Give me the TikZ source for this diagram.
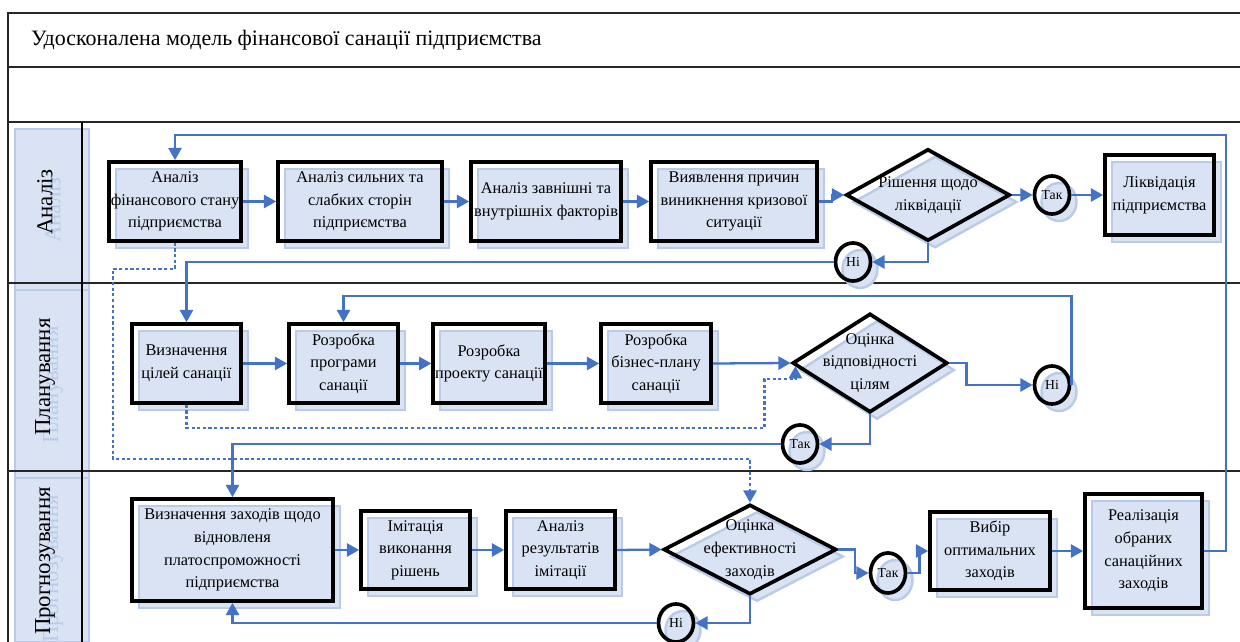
\documentclass[tikz,border=0pt]{standalone}
\usepackage{fontspec}
\setmainfont{Liberation Serif}
\usetikzlibrary{arrows.meta,shapes.geometric,shadows,calc}
\definecolor{lineblue}{HTML}{4472C4}
\definecolor{shade}{HTML}{DAE3F3}
\definecolor{shadeedge}{HTML}{B9CBE8}

\begin{document}
\begin{tikzpicture}[x=0.2mm,y=-0.2mm,
 sh/.style={drop shadow={shadow xshift=1.4mm,shadow yshift=-1.4mm,fill=shade,draw=shadeedge,line width=1.4pt,opacity=1}},
 box/.style={draw=black,line width=2.1pt,align=center,inner sep=1pt,sh,font=\fontsize{9.3}{12.9}\selectfont},
 dec/.style={box,diamond,inner sep=-12pt},
 ans/.style={box,ellipse,minimum width=7mm,minimum height=7.6mm,inner sep=0pt,font=\fontsize{7.8}{9}\selectfont},
 sz/.style 2 args={minimum width=#1*0.2mm,minimum height=#2*0.2mm},
 arr/.style={draw=lineblue,line width=1.3pt,-{Triangle[length=7pt,width=7.5pt]}},
 dotarr/.style={arr,dash pattern=on 1.8pt off 1.4pt},
 lane/.style={draw=black!85,line width=1pt},
 lanetxt/.style={rotate=90,font=\fontsize{13}{15}\selectfont}]
 \useasboundingbox (0,0) rectangle (1240,642);
 % lane header shadows
 \foreach \t/\b in {129/290,290/478,478/642}
   \draw[shadeedge,fill=shade,line width=0.8pt] (15,\t) rectangle (89,\b);
 % frame
 \draw[black!85,line width=1.4pt] (1240,13) -- (8,13) -- (8,642);
 \draw[lane] (8,67) -- (1240,67);
 \draw[lane,line width=1.4pt] (8,122) -- (1240,122);
 \foreach \y in {283,471} \draw[lane] (8,\y) -- (1240,\y);
 \draw[black,line width=0.6pt] (82,122) -- (82,642);
 \node[anchor=west,font=\fontsize{12.5}{15}\selectfont] (title) at (25,40) {Удосконалена модель фінансової санації підприємства};
 \foreach \y/\lab in {202/Аналіз,377/Планування,561/Прогнозування}{
   \node[lanetxt,text=shadeedge] at (53,\y+8) {\lab};
   \node[lanetxt] (lane\y) at (45,\y) {\lab};
 }

 % analysis
 \node[box,sz={130}{79}] (a1) at (175,201.5) {Аналіз\\фінансового стану\\підприємства};
 \node[box,sz={164}{79}] (a2) at (360,201.5) {Аналіз сильних та\\слабких сторін\\підприємства};
 \node[box,sz={150}{79}] (a3) at (546,201.5) {Аналіз завнішні та\\внутрішніх факторів};
 \node[box,sz={166}{79}] (a4) at (734,201.5) {Виявлення причин\\виникнення кризової\\ситуації};
 \node[dec,sz={164}{92}] (d1) at (928,195) {Рішення щодо\\ліквідації};
 \node[ans] (tak1) at (1052,195) {Так};
 \node[box,sz={109}{80}] (a5) at (1159.5,195) {Ліквідація\\підприємства};
 \node[ans] (ni1) at (853,262) {Ні};

 % planning
 \node[box,sz={109}{79}] (b1) at (186.5,363.5) {Визначення\\цілей санації};
 \node[box,sz={109}{79}] (b2) at (343.5,363.5) {Розробка\\програми\\санації};
 \node[box,sz={110}{79}] (b3) at (489,363.5) {Розробка\\проекту санації};
 \node[box,sz={110}{79}] (b4) at (656,363.5) {Розробка\\бізнес-плану\\санації};
 \node[dec,sz={155}{99}] (d2) at (870,363) {Оцінка\\відповідності\\цілям};
 \node[ans] (ni2) at (1052,385) {Ні};
 \node[ans] (tak2) at (800,444) {Так};

 % forecasting
 \node[box,sz={201}{102}] (c1) at (232.5,550) {Визначення заходів щодо\\відновленя\\платоспроможності\\підприємства};
 \node[box,sz={109}{78}] (c2) at (415.5,550) {Імітація\\виконання\\рішень};
 \node[box,sz={109}{78}] (c3) at (560.5,550) {Аналіз\\результатів\\імітації};
 \node[dec,sz={173}{90}] (d3) at (750,549.5) {Оцінка\\ефективності\\заходів};
 \node[ans,minimum height=8mm] (tak3) at (888,573) {Так};
 \node[box,sz={120}{78}] (c4) at (990,551) {Вибір\\оптимальних\\заходів};
 \node[box,sz={117}{114}] (c5) at (1143.5,551) {Реалізація\\обраних\\санаційних\\заходів};
 \node[ans] (ni3) at (676,623) {Ні};

 \coordinate (loop) at (1226,135);
 \coordinate (dotL) at (113,459);
 \coordinate (d2in) at ($(d2.west)!0.06!(d2.south)$);

 \draw[arr] (a1.east) -- (a2.west);
 \draw[arr] (a2.east) -- (a3.west);
 \draw[arr] (a3.east) -- (a4.west);
 \draw[arr] (a4.east) -- ++(13,0) |- (d1.west);
 \draw[arr] (d1.east) -- (tak1.west);
 \draw[arr] (tak1.east) -- (a5.west);
 \draw[arr] (d1.south) |- (ni1.east);
 \draw[arr] (ni1.west) -| (b1.north);
 \draw[arr] (b1.east) -- (b2.west);
 \draw[arr] (b2.east) -- (b3.west);
 \draw[arr] (b3.east) -- (b4.west);
 \draw[arr] (b4.east) -- (d2.west);
 \draw[arr] (d2.east) -- ++(17,0) |- (ni2.west);
 \draw[arr] (ni2.east) -- ++(0,-89) -| (b2.north);
 \draw[arr] (d2.south) |- (tak2.east);
 \draw[arr] (tak2.west) -| (c1.north);
 \draw[arr] (c1.east) -- (c2.west);
 \draw[arr] (c2.east) -- (c3.west);
 \draw[arr] (c3.east) -- (d3.west);
 \draw[arr] (d3.east) -- ++(17,0) |- (tak3.west);
 \draw[arr] (tak3.east) -- ++(12,0) |- (c4.west);
 \draw[arr] (c4.east) -- (c5.west);
 \draw[arr] (c5.east) -| (loop) -| (a1.north);
 \draw[arr] (d3.south) |- (ni3.east);
 \draw[arr] (ni3.west) -| (c1.south);
 \draw[dotarr] (a1.south) -- ++(0,26) -| (dotL) -| (d3.north);
 \draw[dotarr] (b1.south) -- ++(0,23) -| ($(d2in)+(-31,13)$) -| (d2in);
\end{tikzpicture}
\end{document}
